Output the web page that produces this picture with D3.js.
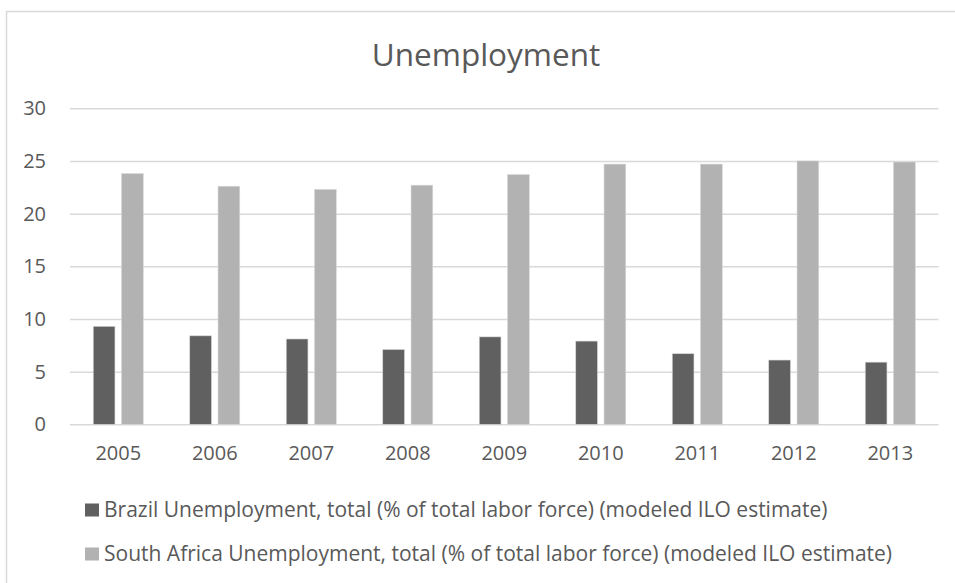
<!DOCTYPE html>
<html>
<head>
<meta charset="utf-8">
<script src="https://cdn.jsdelivr.net/npm/d3@7"></script>
<style>
  html, body { margin: 0; padding: 0; background: #ffffff; }
  svg { display: block; font-family: "Open Sans", "Segoe UI", sans-serif; }
</style>
</head>
<body>
<svg id="chart" width="955" height="583"></svg>
<script>
// ---- data ----
const years = ["2005", "2006", "2007", "2008", "2009", "2010", "2011", "2012", "2013"];
const brazil = [9.3, 8.4, 8.1, 7.1, 8.3, 7.9, 6.7, 6.1, 5.9];
const southAfrica = [23.8, 22.6, 22.3, 22.7, 23.7, 24.7, 24.7, 25.0, 24.9];
const seriesNames = [
  "Brazil Unemployment, total (% of total labor force) (modeled ILO estimate)",
  "South Africa Unemployment, total (% of total labor force) (modeled ILO estimate)"
];
const yTicks = [0, 5, 10, 15, 20, 25, 30];
const titleText = "Unemployment";

// ---- style ----
const colors = ["#606060", "#b2b2b2"];
const textColor = "#595959";
const gridColor = "#d9d9d9";

const series = [brazil, southAfrica];
const svg = d3.select("#chart");

// outer chart frame (cropped on the right/bottom)
svg.append("rect")
  .attr("x", 6.5).attr("y", 11.5)
  .attr("width", 1200).attr("height", 1200)
  .attr("fill", "#fff").attr("stroke", gridColor).attr("stroke-width", 1.5);

const plot = { left: 70, right: 938.5, top: 108.3, bottom: 424.3 };

const x0 = d3.scaleBand().domain(years).range([plot.left, plot.right]).paddingInner(0).paddingOuter(0);
const groupW = 50;
const x1 = d3.scaleBand().domain([0, 1]).range([(x0.step() - groupW) / 2, (x0.step() + groupW) / 2]).paddingInner(0.233).paddingOuter(0);
const y = d3.scaleLinear().domain([0, 30]).range([plot.bottom, plot.top]);

// gridlines + y labels
const yAxis = d3.axisLeft(y).tickValues(yTicks).tickSize(-(plot.right - plot.left)).tickPadding(24).tickFormat(d3.format("d"));
const gy = svg.append("g").attr("transform", `translate(${plot.left},0)`).call(yAxis);
gy.select(".domain").remove();
gy.selectAll(".tick line").attr("stroke", gridColor).attr("stroke-width", 1.5);
gy.selectAll(".tick text").attr("fill", textColor).attr("font-size", 20).attr("font-family", "'Open Sans', sans-serif");

// bars
const groups = svg.append("g").selectAll("g")
  .data(years)
  .join("g")
  .attr("transform", d => `translate(${x0(d)},0)`);

groups.selectAll("rect")
  .data((d, i) => series.map((s, k) => ({ k, v: s[i] })))
  .join("rect")
  .attr("x", d => x1(d.k))
  .attr("width", x1.bandwidth())
  .attr("y", d => y(d.v))
  .attr("height", d => y(0) - y(d.v))
  .attr("fill", d => colors[d.k])
  .attr("stroke", "#d6d6d6")
  .attr("stroke-width", 0.6);

// x axis labels
const xAxis = d3.axisBottom(x0).tickSize(0).tickPadding(22);
const gx = svg.append("g").attr("transform", `translate(0,${plot.bottom})`).call(xAxis);
gx.select(".domain").remove();
gx.selectAll(".tick text").attr("fill", textColor).attr("font-size", 20).attr("font-family", "'Open Sans', sans-serif");

// title
svg.append("text")
  .attr("x", 486)
  .attr("y", 66)
  .attr("text-anchor", "middle")
  .attr("fill", textColor)
  .attr("font-size", 31.5)
  .text(titleText);

// legend
const legend = svg.append("g").selectAll("g")
  .data(seriesNames)
  .join("g")
  .attr("transform", (d, i) => `translate(85,${517 + i * 44})`);
legend.append("rect")
  .attr("x", 0).attr("y", -13.5).attr("width", 14).attr("height", 13)
  .attr("fill", (d, i) => colors[i]);
legend.append("text")
  .attr("x", 19).attr("y", 0)
  .attr("fill", textColor)
  .attr("font-size", 21)
  .text(d => d);
</script>
</body>
</html>
